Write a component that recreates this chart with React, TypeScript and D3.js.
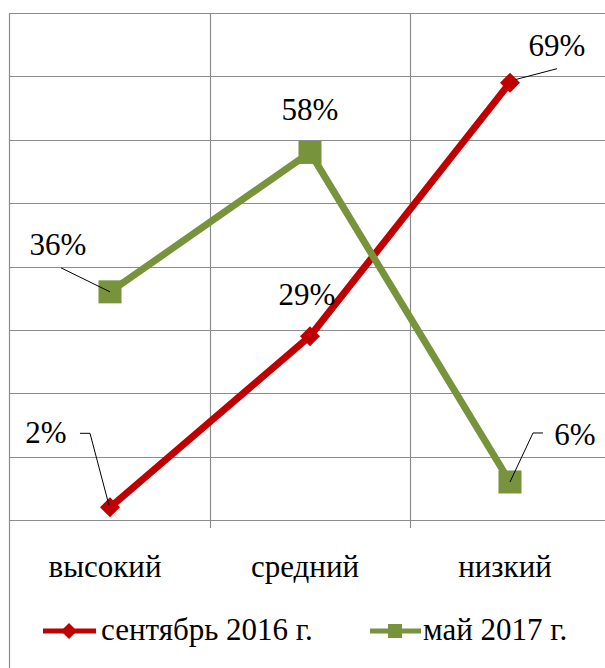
import React from "react";
import * as d3 from "d3";

const categories = ["высокий", "средний", "низкий"];
const seriesNames = ["сентябрь 2016 г.", "май 2017 г."];
const sep2016 = [0.02, 0.29, 0.69];
const may2017 = [0.36, 0.58, 0.06];
const yTicks = [0, 0.1, 0.2, 0.3, 0.4, 0.5, 0.6, 0.7, 0.8];

const W = 605;
const H = 668;
const FONT = '"Liberation Serif"';
const FS = 31;
const RED = "#C00000";
const GREEN = "#77933C";
const GRID = "#8c8c8c";

// label placement relative to each marker: [dx, dy] and leader polyline
const labelLayout = [
  [
    { dx: -64, dy: -64, leader: [[-30, -74], [-20, -74], [-1, -2]] },
    { dx: -3, dy: -31, leader: [] },
    { dx: 47, dy: -27, leader: [[5, -3], [47, -14]] },
  ],
  [
    { dx: -52, dy: -37, leader: [[-49, -24], [0, 0]] },
    { dx: 0, dy: -32, leader: [] },
    { dx: 65, dy: -37, leader: [[33, -49], [23, -49], [0, 0]] },
  ],
];

function SText({ x, y, children, anchor = "middle" }: any) {
  return (
    <text x={x} y={y} textAnchor={anchor} style={{ fontFamily: FONT, fontSize: FS }} fill="#000">
      {children}
    </text>
  );
}

export default function App() {
  const x = d3.scaleBand<string>().domain(categories).range([10, 610]).paddingInner(0).paddingOuter(0);
  const y = d3.scaleLinear().domain([0, 0.8]).range([520, 13]);
  const cx = (c: string) => (x(c) as number) + x.bandwidth() / 2;
  const line = d3
    .line<number>()
    .x((_, i) => cx(categories[i]))
    .y((d) => y(d));
  const series = [
    { name: seriesNames[0], values: sep2016, color: RED, marker: "diamond" },
    { name: seriesNames[1], values: may2017, color: GREEN, marker: "square" },
  ];
  const fmt = d3.format(".0%");

  const marker = (type: string, px: number, py: number, color: string, s: number) =>
    type === "diamond" ? (
      <path d={`M${px},${py - s}L${px + s},${py}L${px},${py + s}L${px - s},${py}Z`} fill={color} />
    ) : (
      <rect x={px - s} y={py - s} width={2 * s} height={2 * s} fill={color} />
    );

  return (
    <svg width={W} height={H} style={{ position: "absolute", left: 0, top: 0, background: "#fff" }}>
      {yTicks.map((t) => (
        <line key={t} x1={9.5} x2={W} y1={Math.round(y(t)) + 0.5} y2={Math.round(y(t)) + 0.5} stroke={GRID} strokeWidth={1.2} />
      ))}
      {categories.slice(1).map((c) => (
        <line key={c} x1={Math.round(x(c) as number) + 0.5} x2={Math.round(x(c) as number) + 0.5} y1={13} y2={528} stroke={GRID} strokeWidth={1.2} />
      ))}
      <line x1={9.5} x2={9.5} y1={13} y2={H} stroke={GRID} strokeWidth={1.2} />

      {series.map((s) => (
        <path key={s.name} d={line(s.values) || ""} fill="none" stroke={s.color} strokeWidth={7} strokeLinejoin="round" />
      ))}
      {series.map((s) =>
        s.values.map((v, i) => (
          <g key={s.name + i}>{marker(s.marker, cx(categories[i]), y(v), s.color, s.marker === "diamond" ? 10 : 11.5)}</g>
        ))
      )}

      {series.map((s, si) =>
        s.values.map((v, i) => {
          const px = cx(categories[i]);
          const py = y(v);
          const L = labelLayout[si][i];
          return (
            <g key={"l" + si + i}>
              {L.leader.length > 0 && (
                <polyline
                  points={L.leader.map((p) => `${px + p[0]},${py + p[1]}`).join(" ")}
                  fill="none"
                  stroke="#000"
                  strokeWidth={1}
                />
              )}
              <SText x={px + L.dx} y={py + L.dy}>
                {fmt(v)}
              </SText>
            </g>
          );
        })
      )}

      {categories.map((c) => (
        <SText key={c} x={cx(c) - 5} y={577}>
          {c}
        </SText>
      ))}

      <g>
        <line x1={43} x2={96} y1={631} y2={631} stroke={RED} strokeWidth={5} />
        {marker("diamond", 69, 631, RED, 8)}
        <SText x={101} y={640} anchor="start">
          {seriesNames[0]}
        </SText>
        <line x1={370} x2={421} y1={631} y2={631} stroke={GREEN} strokeWidth={5} />
        {marker("square", 395, 631, GREEN, 7)}
        <SText x={423} y={640} anchor="start">
          {seriesNames[1]}
        </SText>
      </g>
    </svg>
  );
}
